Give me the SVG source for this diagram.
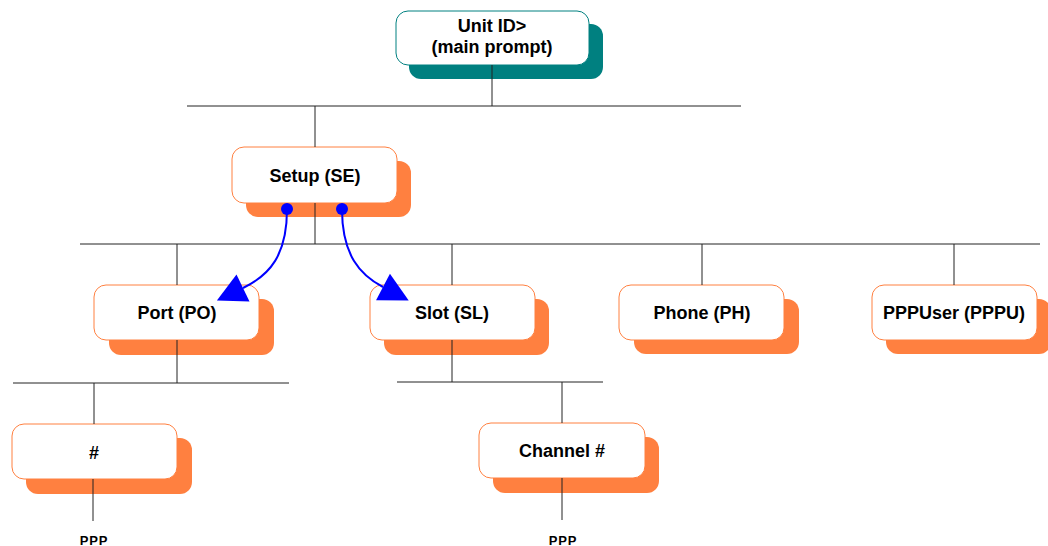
<svg xmlns="http://www.w3.org/2000/svg" width="1048" height="546" viewBox="0 0 1048 546">
<style>
.shadow{fill:#FF8040;}
.box{fill:#fff;stroke:#FF8040;stroke-width:1;}
.tshadow{fill:#008080;}
.tbox{fill:#fff;stroke:#008080;stroke-width:1;}
.lbl{font-family:"Liberation Sans",Arial,sans-serif;font-weight:bold;font-size:18px;fill:#000;text-anchor:middle;}
.small{font-family:"Liberation Sans",Arial,sans-serif;font-weight:bold;font-size:13px;fill:#000;text-anchor:middle;letter-spacing:0.8px;}
.ln{stroke:#222;stroke-width:1;fill:none;}
.arr{stroke:#0000FF;stroke-width:2;fill:none;marker-end:url(#ah);}
.dot{fill:#0000FF;}
</style>
<defs>
<marker id="ah" markerUnits="userSpaceOnUse" markerWidth="30" markerHeight="30" refX="0" refY="15" orient="auto" overflow="visible">
<path d="M0,0 L29,15 L0,30 z" fill="#0000FF"/>
</marker>
</defs>
<rect width="1048" height="546" fill="#fff"/>
<g id="node-unit">
<rect class="tshadow" x="409" y="24" width="194" height="55" rx="12"/>
<rect class="tbox" x="396" y="11" width="193" height="54" rx="12"/>
<text class="lbl" x="492" y="32">Unit ID&gt;</text>
<text class="lbl" x="492" y="53">(main prompt)</text>
</g>
<g id="node-setup">
<rect class="shadow" x="246" y="161" width="165" height="56" rx="12"/>
<rect class="box" x="232" y="147" width="165" height="56" rx="12"/>
<text class="lbl" x="315" y="182">Setup (SE)</text>
</g>
<g id="node-port">
<rect class="shadow" x="109" y="299" width="165" height="56" rx="12"/>
<rect class="box" x="94" y="285" width="165" height="55" rx="12"/>
<text class="lbl" x="177" y="319">Port (PO)</text>
</g>
<g id="node-slot">
<rect class="shadow" x="384" y="299" width="165" height="56" rx="12"/>
<rect class="box" x="370" y="285" width="165" height="55" rx="12"/>
<text class="lbl" x="452" y="319">Slot (SL)</text>
</g>
<g id="node-phone">
<rect class="shadow" x="634" y="299" width="165" height="55" rx="12"/>
<rect class="box" x="619" y="285" width="165" height="55" rx="12"/>
<text class="lbl" x="702" y="319">Phone (PH)</text>
</g>
<g id="node-pppuser">
<rect class="shadow" x="886" y="299" width="165" height="55" rx="12"/>
<rect class="box" x="872" y="285" width="165" height="55" rx="12"/>
<text class="lbl" x="954" y="319">PPPUser (PPPU)</text>
</g>
<g id="node-num">
<rect class="shadow" x="26" y="438" width="166" height="56" rx="12"/>
<rect class="box" x="12" y="424" width="165" height="55" rx="12"/>
<text class="lbl" x="94" y="459">#</text>
</g>
<g id="node-channel">
<rect class="shadow" x="493" y="437" width="166" height="56" rx="12"/>
<rect class="box" x="479" y="423" width="166" height="55" rx="12"/>
<text class="lbl" x="562" y="457">Channel #</text>
</g>
<g id="connectors">
<path class="ln" d="M492,65 V106 M187,106 H741 M315,106 V147 M315,203 V244 M80,244 H1040 M177,244 V285 M452,244 V285 M702,244 V285 M954,244 V285"/>
<path class="ln" d="M177,340 V383 M13,383 H289 M94,383 V424 M93,479 V521"/>
<path class="ln" d="M452,340 V382 M397,382 H603 M562,382 V423 M562,478 V520"/>
<path class="arr" d="M287,209 C287,255 270,275 243,288"/>
<path class="arr" d="M342,209 C342,255 360,275 383,287"/>
<circle class="dot" cx="287" cy="209" r="6"/>
<circle class="dot" cx="342" cy="209" r="6"/>
</g>
<text class="small" x="94" y="545">PPP</text>
<text class="small" x="563" y="545">PPP</text>
</svg>
